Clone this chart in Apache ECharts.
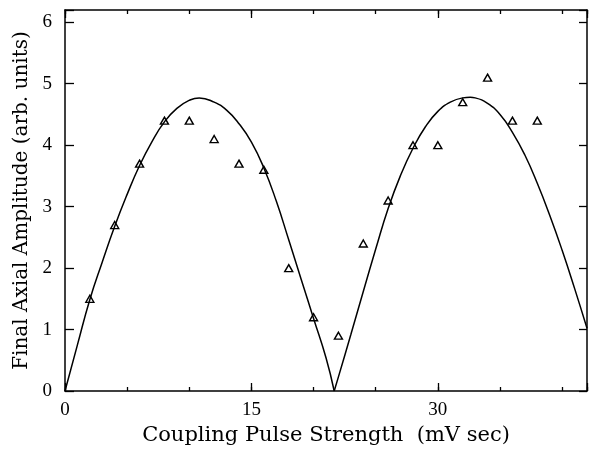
<!DOCTYPE html>
<html><head><meta charset="utf-8">
<script src="https://cdn.jsdelivr.net/npm/echarts@6/dist/echarts.min.js"></script>
<style>html,body{margin:0;padding:0;background:#fff}#c{width:589px;height:453px}</style>
</head><body><div id="c"></div>
<script>
// measured data points (triangles)
const pulseX = [2,4,6,8,10,12,14,16,18,20,22,24,26,28,30,32,34,36,38];
const amplitude = [1.5,2.7,3.7,4.4,4.4,4.1,3.7,3.6,2.0,1.2,0.9,2.4,3.1,4.0,4.0,4.7,5.1,4.4,4.4];
// fitted curve, first lobe
const fit1X = [0,1,2,3,4,5,6,7,8,9,10,10.8,12,13,14,15,16,17,18,19,20,21,21.66];
const fit1Y = [0,0.75,1.49,2.10,2.68,3.20,3.67,4.06,4.38,4.60,4.73,4.77,4.70,4.57,4.35,4.05,3.63,3.09,2.46,1.82,1.18,0.54,0];
// fitted curve, second lobe
const fit2X = [21.66,22,23,24,25,26,27,28,29,30,31,32,32.6,33,34,35,36,37,38,39,40,41,42];
const fit2Y = [0,0.23,0.92,1.62,2.31,2.97,3.51,3.95,4.30,4.55,4.70,4.77,4.78,4.77,4.68,4.50,4.21,3.84,3.38,2.86,2.29,1.67,1.02];
// tick labels
const xTickLabels = [0,15,30];
const yTickLabels = [0,1,2,3,4,5,6];

const X_MIN = 0, X_MAX = 42, Y_MIN = 0, Y_MAX = 6.2;
const tickFont = {fontFamily:'Liberation Serif', fontSize:19, color:'#000'};
const lineStyle = {color:'#000', width:1.5};

function xAxisDef(pos, interval, tickLen, showLabel, showLine, extra) {
  return Object.assign({
    type:'value', position:pos, min:X_MIN, max:X_MAX, interval:interval,
    axisLine:{show:showLine, onZero:false, lineStyle:lineStyle},
    axisTick:{show:true, inside:true, length:tickLen, lineStyle:{color:'#000', width:1.3}},
    axisLabel:{show:showLabel, margin:10, ...tickFont,
      formatter:v => xTickLabels.includes(v) ? String(v) : ''},
    splitLine:{show:false}
  }, extra || {});
}
function yAxisDef(pos, showLabel, tickLen, extra) {
  return Object.assign({
    type:'value', position:pos, min:Y_MIN, max:Y_MAX, interval:1,
    axisLine:{show:true, onZero:false, lineStyle:lineStyle},
    axisTick:{show:true, inside:true, length:tickLen, lineStyle:{color:'#000', width:1.3}},
    axisLabel:{show:showLabel, margin:13, ...tickFont,
      formatter:v => yTickLabels.includes(v) ? String(v) : ''},
    splitLine:{show:false}
  }, extra || {});
}

const chart = echarts.init(document.getElementById('c'), null, {renderer:'canvas'});
chart.setOption({
  backgroundColor:'#fff',
  animation:false,
  grid:{left:65, right:2, top:10, bottom:62, containLabel:false, outerBoundsMode:'none'},
  xAxis:[
    xAxisDef('bottom', 5, 4, false, true),
    xAxisDef('bottom', 15, 8, true, false, {
      name:'Coupling Pulse Strength  (mV sec)', nameLocation:'middle', nameGap:28,
      nameTextStyle:{fontFamily:'DejaVu Serif', fontSize:21, color:'#000'}}),
    xAxisDef('top', 5, 4, false, true),
    xAxisDef('top', 15, 8, false, false)
  ],
  yAxis:[
    yAxisDef('left', true, 9, {
      name:'Final Axial Amplitude (arb. units)', nameLocation:'middle', nameGap:24,
      nameTextStyle:{fontFamily:'DejaVu Serif', fontSize:20, color:'#000'}}),
    yAxisDef('right', false, 8)
  ],
  series:[
    {type:'line', xAxisIndex:0, yAxisIndex:0, smooth:0.5, symbol:'none',
     lineStyle:{color:'#000', width:1.5},
     data: fit1X.map((x,i)=>[x, fit1Y[i]])},
    {type:'line', xAxisIndex:0, yAxisIndex:0, smooth:0.5, symbol:'none',
     lineStyle:{color:'#000', width:1.5},
     data: fit2X.map((x,i)=>[x, fit2Y[i]])},
    {type:'scatter', xAxisIndex:0, yAxisIndex:0, symbol:'triangle', symbolSize:[8,7],
     itemStyle:{color:'#fff', borderColor:'#000', borderWidth:1.4, opacity:1},
     data: pulseX.map((x,i)=>[x, amplitude[i]])}
  ]
});
</script>
</body></html>
